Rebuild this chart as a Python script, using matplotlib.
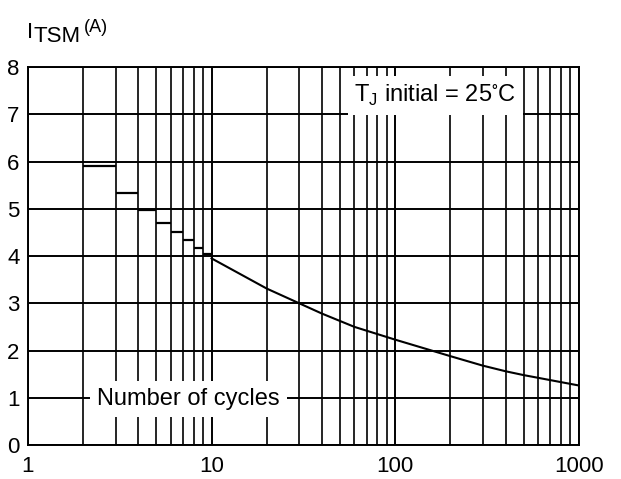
import numpy as np
import matplotlib
matplotlib.use("Agg")
import matplotlib.pyplot as plt
from matplotlib.ticker import FixedLocator, NullFormatter

plt.rcParams["font.family"] = ["Liberation Sans", "DejaVu Sans"]

# ---- data ----
step_left = [2, 3, 4, 5, 6, 7, 8, 9]
step_right = [3, 4, 5, 6, 7, 8, 9, 10]
step_itsm = [5.9, 5.34, 4.98, 4.69, 4.5, 4.33, 4.18, 4.05]

cycles = [10, 20, 30, 40, 60, 100, 200, 300, 400, 500, 1000]
itsm = [3.95, 3.31, 3.0, 2.78, 2.5, 2.23, 1.88, 1.68, 1.56, 1.48, 1.26]

x_ticks = [1, 10, 100, 1000]
x_ticklabels = ["1", "10", "100", "1000"]
y_ticks = [0, 1, 2, 3, 4, 5, 6, 7, 8]

W, H = 621, 479

fig = plt.figure(figsize=(6.21, 4.79), dpi=100)
ax = fig.add_axes([0.045, 0.071, 0.887, 0.789])

ax.set_xscale("log")
ax.set_xlim(1, 1000)
ax.set_ylim(0, 8)

ax.xaxis.set_major_locator(FixedLocator(x_ticks))
minor = [m * d for d in (1, 10, 100) for m in range(2, 10)]
ax.xaxis.set_minor_locator(FixedLocator(minor))
ax.xaxis.set_minor_formatter(NullFormatter())
ax.set_xticklabels(x_ticklabels)
ax.set_yticks(y_ticks)

ax.grid(True, which="major", color="black", linewidth=1.4)
ax.grid(True, which="minor", axis="x", color="black", linewidth=1.2)
ax.tick_params(which="both", length=0, labelsize=16)
ax.tick_params(axis="x", pad=8)
ax.tick_params(axis="y", pad=6)
for s in ax.spines.values():
    s.set_color("black")
    s.set_linewidth(1.4)

ax.hlines(step_itsm, step_left, step_right, colors="black", linewidth=1.6, zorder=3)
ax.plot(cycles, itsm, color="black", linewidth=1.5, zorder=3)

ax.text(2.38, 0.98, "Number of cycles", fontsize=17, va="center", ha="left",
        bbox=dict(facecolor="white", edgecolor="none", pad=5), zorder=4)
ax.text(60, 7.4, "T$_\\mathregular{J}$ initial = 25$\\mathregular{^{\\circ}}$C", fontsize=17,
        va="center", ha="left",
        bbox=dict(facecolor="white", edgecolor="none", pad=5), zorder=4)

# y axis title pieces: I, TSM subscript, (A) superscript
fig.text(27 / W, 1 - 38 / H, "I", fontsize=16, ha="left", va="baseline")
fig.text(33 / W, 1 - 42 / H, "TSM", fontsize=16, ha="left", va="baseline")
fig.text(84 / W, 1 - 32 / H, "(A)", fontsize=13, ha="left", va="baseline")

fig.savefig("out.png", dpi=100)
